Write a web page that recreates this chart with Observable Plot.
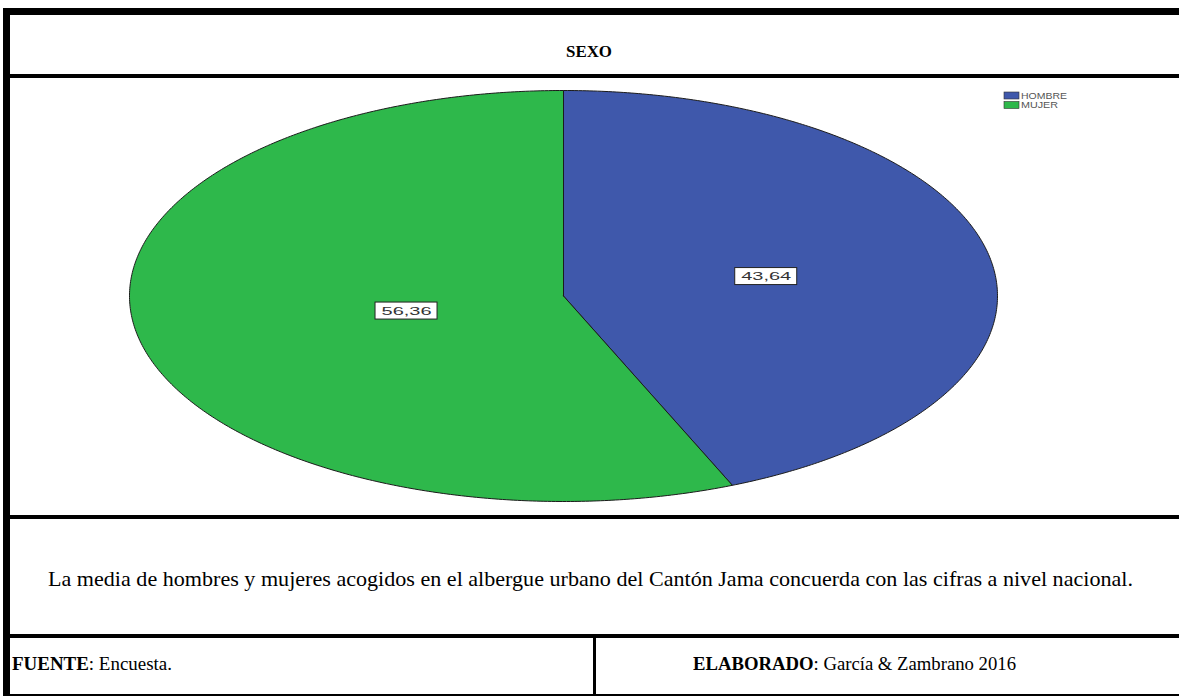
<!DOCTYPE html>
<html><head><meta charset="utf-8">
<script src="https://cdn.jsdelivr.net/npm/d3@7"></script>
<script src="https://cdn.jsdelivr.net/npm/@observablehq/plot@0.6"></script>
<style>
html,body{margin:0;padding:0;background:#fff;width:1179px;height:696px;overflow:hidden;}
#page{position:relative;width:1179px;height:696px;}
#frame{position:absolute;left:0;top:0;}
#chart{position:absolute;left:0;top:78px;}
.t{position:absolute;white-space:nowrap;font-family:"Liberation Serif","Times New Roman",serif;color:#000;line-height:1;transform-origin:0 0;}
</style></head><body>
<div id="page">
<svg id="frame" width="1179" height="696"></svg>
<div id="chart"></div>
</div>
<script>
const categories = ["HOMBRE", "MUJER"];
const values = [43.64, 56.36];
const valueLabels = ["43,64", "56,36"];
const colors = ["#3f58ab", "#2eb84b"];
const title = "SEXO";
const note = "La media de hombres y mujeres acogidos en el albergue urbano del Cantón Jama concuerda con las cifras a nivel nacional.";
const sourceLabel = "FUENTE";
const sourceText = ": Encuesta.";
const authorLabel = "ELABORADO";
const authorText = ": García & Zambrano 2016";

const data = categories.map((name, i) => ({name, value: values[i], label: valueLabels[i], color: colors[i]}));
const arcs = d3.pie().sort(null).value(d => d.value)(data);

const pts = [];
const labels = [];
arcs.forEach(a => {
  const name = a.data.name;
  pts.push({name, x: 0, y: 0});
  const n = Math.ceil((a.endAngle - a.startAngle) / (Math.PI / 360));
  for (let i = 0; i <= n; i++) {
    const t = a.startAngle + (a.endAngle - a.startAngle) * i / n;
    pts.push({name, x: Math.sin(t), y: Math.cos(t)});
  }
  pts.push({name, x: 0, y: 0});
  const th = a.endAngle - a.startAngle;
  const r = 4 * Math.sin(th / 2) / (3 * th);
  const mid = (a.startAngle + a.endAngle) / 2;
  labels.push({name, label: a.data.label, x: r * Math.sin(mid), y: r * Math.cos(mid)});
});

const bw = 31 / 434, bh = 8.5 / 205.5;

const plot = Plot.plot({
  width: 1179, height: 437, margin: 0,
  x: {domain: [-1, 1], range: [129, 997], axis: null},
  y: {domain: [-1, 1], range: [423, 12], axis: null},
  style: {background: "transparent", overflow: "visible"},
  marks: [
    ...data.map(d => Plot.line(pts.filter(p => p.name === d.name), {
      x: "x", y: "y", fill: d.color, stroke: "#1b1b1b", strokeWidth: 1, strokeLinejoin: "round"
    })),
    Plot.rect(labels, {x1: d => d.x - bw, x2: d => d.x + bw, y1: d => d.y - bh, y2: d => d.y + bh, fill: "white", stroke: "#222", strokeWidth: 1}),
    Plot.text(labels, {x: "x", y: "y", text: "label", fontFamily: "Liberation Sans, Arial, sans-serif", fontSize: 11, fill: "#333"})
  ]
});
document.getElementById("chart").appendChild(plot);
d3.select(plot).selectAll("g[aria-label='text'] text")
  .attr("textLength", 50).attr("lengthAdjust", "spacingAndGlyphs");

// Frame (table lines)
const f = d3.select("#frame");
f.append("rect").attr("x", 3).attr("y", 8).attr("width", 1176).attr("height", 7).attr("fill", "#000");
f.append("rect").attr("x", 3).attr("y", 8).attr("width", 7).attr("height", 688).attr("fill", "#000");
f.append("rect").attr("x", 3).attr("y", 74).attr("width", 1176).attr("height", 4).attr("fill", "#000");
f.append("rect").attr("x", 3).attr("y", 515).attr("width", 1176).attr("height", 4).attr("fill", "#000");
f.append("rect").attr("x", 3).attr("y", 634).attr("width", 1176).attr("height", 4).attr("fill", "#000");
f.append("rect").attr("x", 3).attr("y", 694).attr("width", 1176).attr("height", 2).attr("fill", "#000");
f.append("rect").attr("x", 593).attr("y", 634).attr("width", 3).attr("height", 62).attr("fill", "#000");

// legend
data.forEach((d, i) => {
  f.append("rect").attr("x", 1004).attr("y", 92 + i * 9.5).attr("width", 15).attr("height", 7)
    .attr("fill", d.color).attr("stroke", "#333").attr("stroke-width", 0.6);
  f.append("text").attr("x", 1021).attr("y", 98.8 + i * 9.5)
    .attr("font-family", "'Liberation Sans', Arial, sans-serif").attr("font-size", 8.5).attr("fill", "#555")
    .attr("textLength", i === 0 ? 46 : 37).attr("lengthAdjust", "spacingAndGlyphs")
    .text(d.name);
});

// Texts (HTML, horizontally fitted to the reference widths)
const page = document.getElementById("page");
function addText(parts, {left, center, top, size, width}) {
  const el = document.createElement("div");
  el.className = "t";
  el.style.fontSize = size + "px";
  parts.forEach(([txt, bold]) => {
    const s = document.createElement("span");
    if (bold) s.style.fontWeight = "bold";
    s.textContent = txt;
    el.appendChild(s);
  });
  page.appendChild(el);
  const w = el.getBoundingClientRect().width;
  const k = width / w;
  const x = center != null ? center - width / 2 : left;
  el.style.left = x + "px";
  el.style.top = top + "px";
  el.style.transform = `scaleX(${k})`;
}
addText([[title, true]], {center: 589, top: 44, size: 16, width: 46});
addText([[note, false]], {center: 590.5, top: 569, size: 21, width: 1085});
addText([[sourceLabel, true], [sourceText, false]], {left: 12, top: 655, size: 18, width: 160});
addText([[authorLabel, true], [authorText, false]], {left: 693, top: 655, size: 18, width: 323});
</script>
</body></html>
